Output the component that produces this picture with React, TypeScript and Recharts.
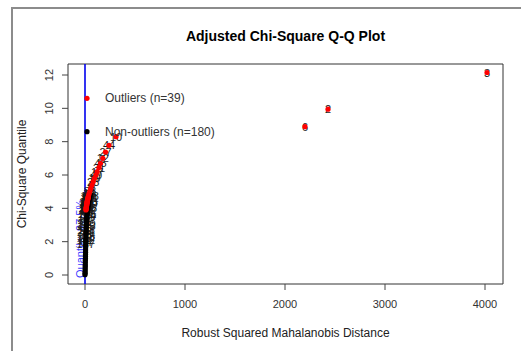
import {
  ScatterChart,
  Scatter,
  XAxis,
  YAxis,
  ReferenceLine,
  ReferenceArea,
  ReferenceDot,
  Label,
} from "recharts";

// outliers (red), sorted by quantile, largest first
const outlierIds = [3, 2, 6, 10, 44, 27, 12, 45, 31, 17, 40, 19, 23, 8, 5, 38, 14, 42, 29, 33, 11, 21, 36, 9, 25, 16, 43, 30, 18, 7, 35, 22, 13, 39, 26, 4, 34, 20, 15];
const outlierDist = [4020, 2430, 2200, 310, 240, 205, 178, 155, 140, 122, 110, 95, 82, 70, 58, 50, 42, 36, 33, 31, 30, 28, 27, 25, 24, 23, 21, 20, 19, 18, 17, 16, 15, 14, 13, 12, 11, 10, 9.5];
const outlierQuant = [12.15, 9.95, 8.9, 8.3, 7.78, 7.38, 7.0, 6.7, 6.45, 6.2, 6.0, 5.8, 5.6, 5.4, 5.2, 5.05, 4.9, 4.78, 4.7, 4.66, 4.62, 4.58, 4.54, 4.5, 4.46, 4.42, 4.38, 4.34, 4.3, 4.26, 4.22, 4.18, 4.14, 4.1, 4.06, 4.02, 3.98, 3.94, 3.9];

// non-outliers (black), lowest quantile first; "" = no label drawn
const inlierIds = ["", "", "", "", "", "", "", "", "", "", "", "", "", "", "", "", 187, 64, 152, 99, 128, 73, 201, 118, 56, 143, 210, 91, 167, 78, 134, 195, 60, 112, 176, 85, 149, 203, 67, 121, 158, 96];
const inlierDist = [0.3, 0.8, 1.2, 1.5, 2.1, 2.4, 3, 3.2, 3.9, 4.3, 4.6, 5.2, 5.5, 6.1, 6.4, 7, 7.3, 8, 8.4, 9.1, 9.5, 10.2, 11, 11.8, 12.6, 13.5, 14.4, 15.2, 16.5, 18, 19.7, 21.4, 23.5, 26, 28.4, 31, 34.5, 37, 41, 44.5, 48, 53];
const inlierQuant = [0.02, 0.1, 0.19, 0.3, 0.41, 0.52, 0.63, 0.76, 0.88, 1.0, 1.13, 1.25, 1.37, 1.5, 1.63, 1.75, 1.88, 2.0, 2.12, 2.25, 2.37, 2.49, 2.6, 2.72, 2.84, 2.96, 3.08, 3.2, 3.31, 3.43, 3.55, 3.66, 3.78, 3.9, 4.01, 4.12, 4.24, 4.36, 4.48, 4.6, 4.72, 4.84];

const xTicks = [0, 1000, 2000, 3000, 4000];
const yTicks = [0, 2, 4, 6, 8, 10, 12];
const xDomain = [-170, 4180];
const yDomain = [-0.54, 12.66];

const legendLabels = ["Outliers (n=39)", "Non-outliers (n=180)"];
const legendX = 20;
const legendY = [10.6, 8.6];
const cutoff = 0;
const cutoffLabel = "Quantile: 97.5%";

const outliers = outlierIds.map((id, i) => ({ id, d: outlierDist[i], q: outlierQuant[i] }));
const inliers = inlierIds.map((id, i) => ({ id, d: inlierDist[i], q: inlierQuant[i] }));
const allPoints = [...inliers, ...outliers];

const FONT = "'Liberation Sans', Arial, sans-serif";
const INK = "#1a1a1a";

const YTick = (props: any) => {
  const { x, y, payload } = props;
  return (
    <text
      x={x}
      y={y}
      transform={`rotate(-90 ${x} ${y})`}
      textAnchor="middle"
      fontSize={11}
      fill="#333"
      fontFamily={FONT}
    >
      {payload.value}
    </text>
  );
};

const idText = (props: any) => {
  const id = props.payload?.id ?? props.id;
  if (id === "" || id == null) return <g />;
  return (
    <text x={props.cx} y={props.cy} dy={4} textAnchor="middle" fontSize={11} fill={INK} stroke="none" fontFamily={FONT}>
      {id}
    </text>
  );
};

const dot = (color: string) => (props: any) => <circle cx={props.cx} cy={props.cy} r={2.6} fill={color} stroke="none" />;

export default function App() {
  return (
    <div style={{ position: "absolute", left: 0, top: 0, width: 521, height: 351, overflow: "hidden", background: "#fff", fontFamily: FONT }}>
      <div style={{ position: "absolute", left: 11, top: 7, width: 600, height: 400, borderLeft: "2px solid #8c8c8c", borderTop: "2px solid #8c8c8c" }} />
      <div style={{ position: "absolute", left: 68, top: 28, width: 435, textAlign: "center", fontWeight: "bold", fontSize: 14, color: "#000" }}>
        Adjusted Chi-Square Q-Q Plot
      </div>
      <ScatterChart width={521} height={351} margin={{ top: 64, right: 18, bottom: 0, left: 0 }} style={{ position: "absolute", left: 0, top: 0 }}>
        <XAxis
          type="number"
          dataKey="d"
          domain={xDomain}
          ticks={xTicks}
          allowDataOverflow
          height={67}
          axisLine={false}
          tickSize={6}
          tickMargin={10}
          tickLine={{ stroke: "#444" }}
          tick={{ fontSize: 11, fill: "#333", fontFamily: FONT }}
        >
          <Label
            content={() => (
              <text x={285.5} y={337} textAnchor="middle" fontSize={12} fill="#222" fontFamily={FONT}>
                Robust Squared Mahalanobis Distance
              </text>
            )}
          />
        </XAxis>
        <YAxis
          type="number"
          dataKey="q"
          domain={yDomain}
          ticks={yTicks}
          allowDataOverflow
          width={68}
          axisLine={false}
          tickSize={6}
          tickMargin={9}
          tickLine={{ stroke: "#444" }}
          tick={<YTick />}
        >
          <Label
            content={() => (
              <text x={26} y={174} transform="rotate(-90 26 174)" textAnchor="middle" fontSize={12} fill="#222" fontFamily={FONT}>
                Chi-Square Quantile
              </text>
            )}
          />
        </YAxis>
        <ReferenceArea x1={xDomain[0]} x2={xDomain[1]} y1={yDomain[0]} y2={yDomain[1]} fill="none" stroke="#333" strokeWidth={1} ifOverflow="visible" />
        <ReferenceLine
          x={cutoff}
          stroke="#0000ee"
          strokeWidth={1.6}
          label={(p: any) => {
            const vb = p.viewBox || {};
            const tx = vb.x - 1;
            const ty = vb.y + vb.height - 6;
            return (
              <text x={tx} y={ty} transform={`rotate(-90 ${tx} ${ty})`} textAnchor="start" fontSize={11} fill="#3a3aff" fontFamily={FONT}>
                {cutoffLabel}
              </text>
            );
          }}
        />
        <Scatter data={allPoints} shape={idText} fill={INK} isAnimationActive={false} />
        <Scatter data={inliers} shape={dot("#000")} fill="#000" isAnimationActive={false} />
        <Scatter data={outliers} shape={dot("#ff0000")} fill="#ff0000" isAnimationActive={false} />
        {legendLabels.map((text, i) => (
          <ReferenceDot
            key={text}
            x={legendX}
            y={legendY[i]}
            r={2.6}
            fill={i === 0 ? "#ff0000" : "#000"}
            stroke="none"
            label={(p: any) => {
              const vb = p.viewBox || {};
              const cx = vb.x + (vb.width || 0) / 2;
              const cy = vb.y + (vb.height || 0) / 2;
              return (
                <text x={cx + 18} y={cy + 4} fontSize={12} fill="#333" fontFamily={FONT}>
                  {text}
                </text>
              );
            }}
          />
        ))}
      </ScatterChart>
    </div>
  );
}
